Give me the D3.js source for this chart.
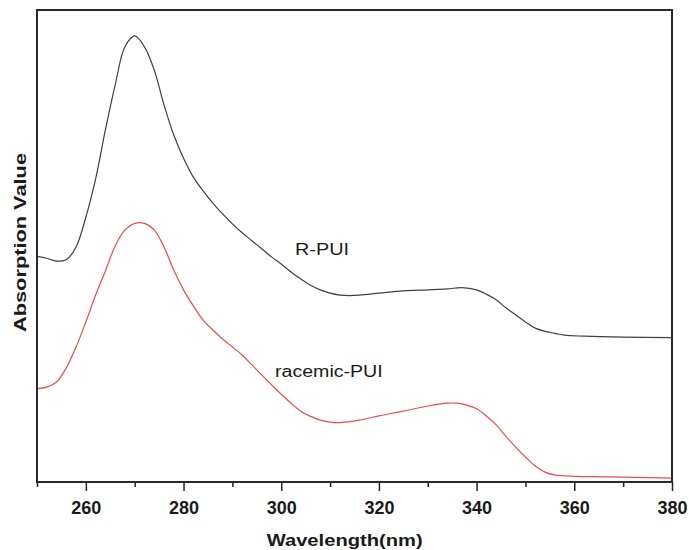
<!DOCTYPE html>
<html>
<head>
<meta charset="utf-8">
<script src="https://cdn.jsdelivr.net/npm/d3@7"></script>
<style>
  body { margin: 0; background: #fff; }
  svg { display: block; }
  text { font-family: "Liberation Sans", Arial, sans-serif; fill: #1a1a1a; }
</style>
</head>
<body>
<svg id="chart" width="689" height="550"></svg>
<script>
// UV-Vis absorption spectra (arbitrary absorbance units)
const wavelengthR = [250,252,254,256,258,260,262,264,266,268,270,272,274,276,278,280,282,284,286,288,290,292,294,296,298,300,302,304,306,308,310,312,314,316,320,325,330,334,337,340,342,344,346,348,350,352,354,356,358,362,370,380];
const absorbR =     [0.478,0.474,0.468,0.471,0.498,0.561,0.642,0.746,0.841,0.922,0.945,0.922,0.873,0.799,0.735,0.686,0.646,0.617,0.591,0.568,0.547,0.528,0.511,0.494,0.477,0.462,0.445,0.430,0.417,0.407,0.400,0.396,0.395,0.396,0.400,0.405,0.407,0.409,0.412,0.407,0.398,0.386,0.369,0.354,0.339,0.326,0.319,0.315,0.311,0.309,0.307,0.306];

const wavelengthRac = [250,252,254,256,258,260,262,264,266,268,270,272,274,276,278,280,282,284,286,288,290,292,294,296,298,300,302,304,306,308,310,312,316,320,325,330,334,336,338,340,342,344,346,348,350,352,354,356,360,366,372,380];
const absorbRac =     [0.198,0.201,0.212,0.242,0.286,0.339,0.396,0.447,0.500,0.534,0.548,0.548,0.534,0.498,0.449,0.407,0.373,0.343,0.322,0.303,0.286,0.269,0.248,0.227,0.206,0.186,0.167,0.150,0.139,0.131,0.127,0.126,0.131,0.140,0.150,0.161,0.167,0.167,0.163,0.155,0.140,0.121,0.097,0.074,0.053,0.034,0.021,0.015,0.012,0.011,0.010,0.008];

const majorTicks = [260,280,300,320,340,360,380];
const minorTicks = [250,270,290,310,330,350,370];
const seriesLabels = ["R-PUI", "racemic-PUI"];

const svg = d3.select("#chart");
const W = 689, H = 550;
const margin = { top: 10, right: 17, bottom: 68, left: 37 };
const x0 = margin.left, x1 = W - margin.right;
const y0 = H - margin.bottom, y1 = margin.top;

const x = d3.scaleLinear().domain([250, 380]).range([x0, x1]);
const y = d3.scaleLinear().domain([0, 1]).range([y0, y1]);

const line = d3.line()
  .x(d => x(d[0]))
  .y(d => y(d[1]))
  .curve(d3.curveCatmullRom.alpha(0.5));

const dataR = wavelengthR.map((w, i) => [w, absorbR[i]]);
const dataRac = wavelengthRac.map((w, i) => [w, absorbRac[i]]);

svg.append("path")
  .datum(dataR)
  .attr("d", line)
  .attr("fill", "none")
  .attr("stroke", "#404040")
  .attr("stroke-width", 1.2);

svg.append("path")
  .datum(dataRac)
  .attr("d", line)
  .attr("fill", "none")
  .attr("stroke", "#ee4b4b")
  .attr("stroke-width", 1.2);

// minor ticks
svg.append("g")
  .attr("transform", `translate(0,${y0})`)
  .call(d3.axisBottom(x).tickValues(minorTicks).tickSize(5).tickFormat(""))
  .call(g => g.select(".domain").remove())
  .call(g => g.selectAll("line").attr("stroke", "#222").attr("stroke-width", 1.5));

// major ticks with labels
const ax = svg.append("g")
  .attr("transform", `translate(0,${y0})`)
  .call(d3.axisBottom(x).tickValues(majorTicks).tickSize(9).tickPadding(10).tickFormat(d3.format("d")));
ax.select(".domain").remove();
ax.selectAll("line").attr("stroke", "#222").attr("stroke-width", 1.5);
ax.selectAll("text")
  .attr("font-size", 18)
  .attr("font-weight", "bold")
  .attr("font-family", "'Liberation Sans', Arial, sans-serif")
  .attr("fill", "#1a1a1a");

// frame
svg.append("rect")
  .attr("x", x0).attr("y", y1)
  .attr("width", x1 - x0).attr("height", y0 - y1)
  .attr("fill", "none")
  .attr("stroke", "#2a2a2a")
  .attr("stroke-width", 2);

// axis titles
svg.append("text")
  .attr("x", 344.7).attr("y", 545.5)
  .attr("text-anchor", "middle")
  .attr("font-size", 17)
  .attr("font-weight", "bold")
  .attr("textLength", 156)
  .attr("lengthAdjust", "spacingAndGlyphs")
  .text("Wavelength(nm)");

svg.append("text")
  .attr("transform", "translate(26,242.5) rotate(-90)")
  .attr("text-anchor", "middle")
  .attr("font-size", 17)
  .attr("font-weight", "bold")
  .attr("textLength", 179)
  .attr("lengthAdjust", "spacingAndGlyphs")
  .text("Absorption Value");

// series labels
svg.append("text")
  .attr("x", 295).attr("y", 255)
  .attr("font-size", 16)
  .attr("textLength", 54)
  .attr("lengthAdjust", "spacingAndGlyphs")
  .text(seriesLabels[0]);

svg.append("text")
  .attr("x", 275).attr("y", 376.5)
  .attr("font-size", 16)
  .attr("textLength", 107.7)
  .attr("lengthAdjust", "spacingAndGlyphs")
  .text(seriesLabels[1]);
</script>
</body>
</html>
